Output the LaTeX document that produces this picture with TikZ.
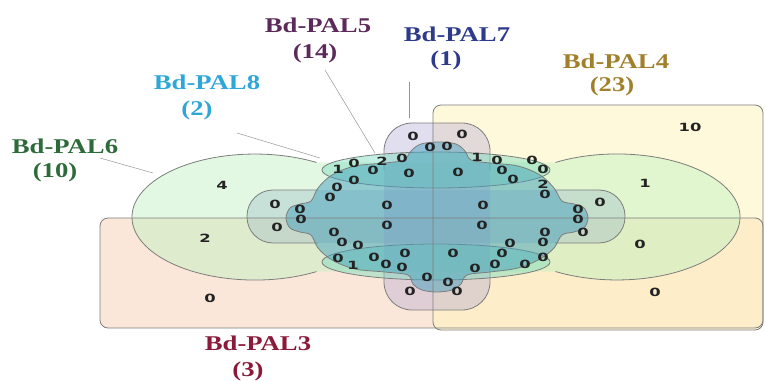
\documentclass[tikz,border=0pt]{standalone}
\usepackage{fontspec}
\setmainfont{Liberation Serif}
\newfontfamily\digfont{DejaVu Sans}
\definecolor{cthree}{RGB}{248,212,186}
\definecolor{cfour}{RGB}{255,243,185}
\definecolor{csix}{RGB}{190,240,190}
\definecolor{cside}{RGB}{150,180,200}
\definecolor{cvert}{RGB}{170,160,210}
\definecolor{cband}{RGB}{120,220,190}
\definecolor{cblob}{RGB}{70,160,190}
\definecolor{linegrey}{RGB}{125,125,125}
\definecolor{leadgrey}{RGB}{150,150,150}
\definecolor{digc}{RGB}{35,35,35}
\definecolor{lpalfive}{RGB}{92,42,90}
\definecolor{lpalseven}{RGB}{46,58,140}
\definecolor{lpalfour}{RGB}{160,128,42}
\definecolor{lpaleight}{RGB}{46,166,216}
\definecolor{lpalsix}{RGB}{46,107,58}
\definecolor{lpalthree}{RGB}{139,26,58}
\newcommand{\dz}[1]{\scalebox{1.45}[1]{#1}}
\newcommand{\lz}[1]{\scalebox{1.27}[1]{#1}}
\begin{document}
\begin{tikzpicture}[x=1pt,y=-1pt,
  outl/.style={draw=linegrey, line width=0.8pt},
  dig/.style={inner sep=0pt, font=\digfont\bfseries\fontsize{11.3}{13}\selectfont, text=digc},
  lab/.style={inner sep=0pt, font=\bfseries\fontsize{21}{24}\selectfont},
  lead/.style={draw=leadgrey, line width=0.5pt}]
\useasboundingbox (0,0) rectangle (765,380);

% sets: rectangles
\fill[cthree, fill opacity=0.55, rounded corners=8pt] (100,218) rectangle (763,328);
\fill[cfour, fill opacity=0.5, rounded corners=8pt] (433,105) rectangle (763,330);

% green two-lobed set
\fill[csix, fill opacity=0.45]
  (316.5,271.6) arc[start angle=60, end angle=300, x radius=123, y radius=63]
  -- (555.5,162.4) arc[start angle=240, end angle=480, x radius=123, y radius=63]
  -- cycle;
\draw[outl] (316.5,271.6) arc[start angle=60, end angle=300, x radius=123, y radius=63];
\draw[outl] (555.5,162.4) arc[start angle=240, end angle=480, x radius=123, y radius=63];

% horizontal capsule (side knobs)
\fill[cside, fill opacity=0.35, rounded corners=26pt] (247,190) rectangle (625,243);
\draw[outl, rounded corners=26pt] (318,190) -| (247,243) -- (318,243);
\draw[outl, rounded corners=26pt] (555,190) -| (625,243) -- (555,243);
% vertical capsule (top/bottom knobs)
\fill[cvert, fill opacity=0.35, rounded corners=28pt] (384,123) rectangle (490,310);
\draw[outl, rounded corners=28pt] (384,170) |- (490,123) -- (490,170);
\draw[outl, rounded corners=28pt] (384,265) |- (490,310) -- (490,265);

% bands (corner lobes)
\path[fill=cband, fill opacity=0.45, outl] (436,170) ellipse[x radius=114, y radius=18];
\path[fill=cband, fill opacity=0.45, outl] (436,262) ellipse[x radius=114, y radius=18];

% central blob
\path[fill=cblob, fill opacity=0.5, outl] plot[smooth cycle, tension=0.55] coordinates {
 (286,218) (290,208) (300,204) (311,201) (318,188) (332,175) (355,166) (385,163)
 (404,160) (411,151) (421,144) (439,142) (456,144) (465,151) (471,160) (490,163)
 (518,166) (540,175) (554,188) (562,201) (574,204) (584,208) (588,218) (584,228)
 (574,232) (562,235) (554,248) (540,259) (518,268) (490,272) (467,275) (461,284)
 (452,290) (437,292) (422,290) (413,284) (408,275) (385,272) (355,269) (332,260)
 (318,248) (311,235) (300,232) (290,228)};

% rectangle outlines on top
\draw[outl, rounded corners=8pt] (100,218) rectangle (763,328);
\draw[outl, rounded corners=8pt] (433,105) rectangle (763,330);

% counts
\foreach \x/\y/\t [count=\i] in {
 690/127/10, 645/183/1, 640/244/0, 655/292/0, 222/185/4, 205/238/2, 210/298/0,
 275/204/0, 277/227/0, 300/209/0, 301/219/0,
 413/136/0, 462/134/0, 430/147/0, 447/146/0, 402/158/0, 382/161/2, 354/163/0,
 338/169/1, 373/170/0, 409/173/0, 458/172/0, 354/180/0, 337/187/0, 330/197/0,
 477/157/1, 497/160/0, 502/170/0, 532/160/0, 543/169/0, 513/179/0, 543/184/2, 545/194/0,
 387/205/0, 387/225/0, 483/205/0, 482/225/0,
 600/202/0, 578/209/0, 578/219/0, 583/232/0,
 334/232/0, 342/242/0, 358/245/0, 338/258/0, 353/265/1, 374/257/0, 386/264/0,
 402/267/0, 405/253/0, 453/253/0, 427/277/0, 448/282/0, 410/291/0, 457/291/0,
 475/268/0, 495/264/0, 502/253/0, 510/243/0, 525/264/0, 543/257/0, 543/242/0, 545/232/0}
 {\node[dig] (d\i) at (\x,\y) {\dz{\t}};}

% labels
\node[lab, text=lpalfive] (l5) at (318,25) {\lz{Bd-PAL5}};
\node[lab, text=lpalfive] (n5) at (315,53) {\lz{(14)}};
\node[lab, text=lpalseven] (l7) at (457,34) {\lz{Bd-PAL7}};
\node[lab, text=lpalseven] (n7) at (446,60) {\lz{(1)}};
\node[lab, text=lpalfour] (l4) at (616,61) {\lz{Bd-PAL4}};
\node[lab, text=lpalfour] (n4) at (612,86) {\lz{(23)}};
\node[lab, text=lpaleight] (l8) at (207,82) {\lz{Bd-PAL8}};
\node[lab, text=lpaleight] (n8) at (197,110) {\lz{(2)}};
\node[lab, text=lpalsix] (l6) at (65,146) {\lz{Bd-PAL6}};
\node[lab, text=lpalsix] (n6) at (55,172) {\lz{(10)}};
\node[lab, text=lpalthree] (l3) at (258,343) {\lz{Bd-PAL3}};
\node[lab, text=lpalthree] (n3) at (248,371) {\lz{(3)}};

% leader lines
\coordinate (a5) at (325,70); \coordinate (b5) at (375,153);
\coordinate (a8) at (237,133); \coordinate (b8) at (320,158);
\coordinate (a6) at (100,158); \coordinate (b6) at (153,173);
\coordinate (a7) at (409,82); \coordinate (b7) at (409,118);
\draw[lead] (a5) -- (b5);
\draw[lead] (a8) -- (b8);
\draw[lead] (a6) -- (b6);
\draw[lead] (a7) -- (b7);
\end{tikzpicture}
\end{document}
